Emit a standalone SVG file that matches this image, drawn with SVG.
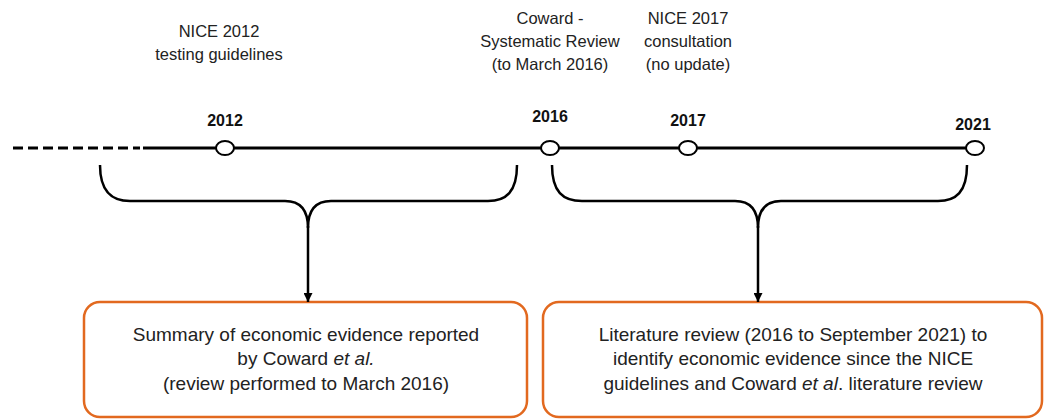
<svg xmlns="http://www.w3.org/2000/svg" width="1045" height="420" viewBox="0 0 1045 420">
<style>
.lbl{font-family:"Liberation Sans",Arial,sans-serif;font-size:16.5px;fill:#222;text-anchor:middle}
.yr{font-family:"Liberation Sans",Arial,sans-serif;font-size:16px;font-weight:bold;fill:#111;text-anchor:middle}
.bx{font-family:"Liberation Sans",Arial,sans-serif;font-size:19px;fill:#222;text-anchor:middle}
.box{fill:#fff;stroke:#E2691F;stroke-width:2.5}
.tl{stroke:#000;stroke-width:3;fill:none}
.br{stroke:#000;stroke-width:2.5;fill:none}
.pt{fill:#fff;stroke:#000;stroke-width:2}
</style>
<defs>
<marker id="ah" markerWidth="9" markerHeight="9" refX="9" refY="4.5" orient="auto" markerUnits="userSpaceOnUse" viewBox="0 0 9 9">
<path d="M0,0 L9,4.5 L0,9 Z" fill="#000"/>
</marker>
</defs>
<g id="box1">
<rect class="box" x="84" y="302" width="443" height="115" rx="16"/>
<text class="bx" x="306" y="341">Summary of economic evidence reported</text>
<text class="bx" x="306" y="365">by Coward <tspan font-style="italic">et al.</tspan></text>
<text class="bx" x="306" y="390">(review performed to March 2016)</text>
</g>
<g id="box2">
<rect class="box" x="543" y="302" width="499" height="115" rx="16"/>
<text class="bx" x="793" y="341">Literature review (2016 to September 2021) to</text>
<text class="bx" x="793" y="365">identify economic evidence since the NICE</text>
<text class="bx" x="793" y="390">guidelines and Coward <tspan font-style="italic">et al</tspan>. literature review</text>
</g>
<g id="connectors">
<line class="tl" x1="13" y1="148" x2="140" y2="148" stroke-dasharray="10,5"/>
<line class="tl" x1="143" y1="148" x2="975" y2="148"/>
<path class="br" d="M100,165 C100,192 112,201 130,201 L285,201 C300,201 308,210 308,228 C308,210 316,201 331,201 L488,201 C506,201 517,192 517,165"/>
<line class="br" x1="308" y1="226" x2="308" y2="302" marker-end="url(#ah)"/>
<path class="br" d="M552,165 C552,192 563,201 582,201 L735,201 C750,201 758,210 758,228 C758,210 766,201 781,201 L938,201 C956,201 967,192 967,165"/>
<line class="br" x1="758" y1="226" x2="758" y2="302" marker-end="url(#ah)"/>
</g>
<g id="p2012"><ellipse class="pt" cx="225" cy="148" rx="9" ry="7"/><text class="yr" x="225" y="126">2012</text></g>
<g id="p2016"><ellipse class="pt" cx="550" cy="148" rx="9" ry="7"/><text class="yr" x="550" y="122">2016</text></g>
<g id="p2017"><ellipse class="pt" cx="688" cy="148" rx="9" ry="7"/><text class="yr" x="688" y="126">2017</text></g>
<g id="p2021"><ellipse class="pt" cx="975" cy="148" rx="9" ry="7"/><text class="yr" x="973" y="130">2021</text></g>
<g id="lbl2012"><text class="lbl" x="219" y="37">NICE 2012</text><text class="lbl" x="219" y="60">testing guidelines</text></g>
<g id="lblCoward"><text class="lbl" x="550" y="24">Coward -</text><text class="lbl" x="550" y="47">Systematic Review</text><text class="lbl" x="550" y="70">(to March 2016)</text></g>
<g id="lbl2017"><text class="lbl" x="688" y="24">NICE 2017</text><text class="lbl" x="688" y="47">consultation</text><text class="lbl" x="688" y="70">(no update)</text></g>
</svg>
